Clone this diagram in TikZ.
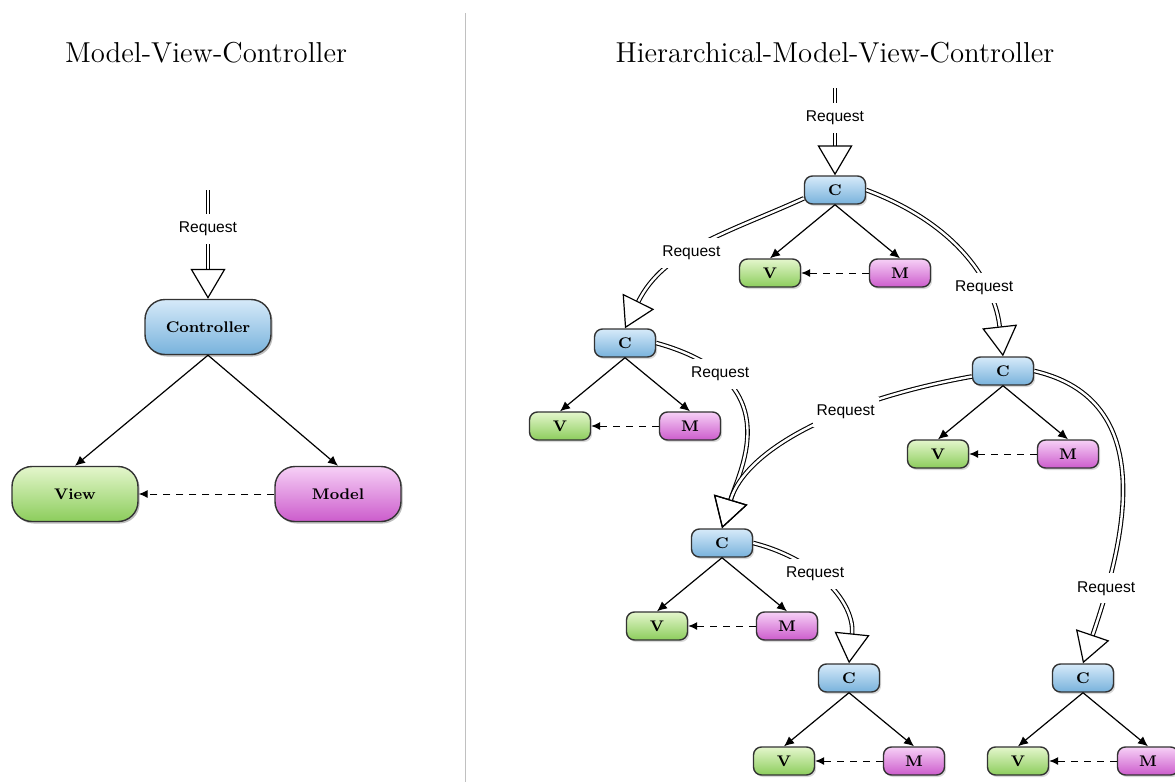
\documentclass[tikz,border=0pt]{standalone}
\usepackage{fontspec}
\usepackage{tikz}
\usetikzlibrary{arrows.meta}
\usetikzlibrary{shadows}
\usetikzlibrary{positioning}
\newfontfamily\reqfont{Liberation Sans}
\definecolor{ctop}{RGB}{214, 234, 249}
\definecolor{cbot}{RGB}{120, 178, 220}
\definecolor{vtop}{RGB}{228, 246, 204}
\definecolor{vbot}{RGB}{140, 205, 92}
\definecolor{mtop}{RGB}{246, 208, 246}
\definecolor{mbot}{RGB}{204, 92, 204}
\definecolor{divgray}{RGB}{192, 192, 192}
\tikzset{
  box/.style={draw=black!80, line width=0.7pt, rounded corners=4pt,
    minimum width=30.5pt, minimum height=14pt, inner sep=0pt,
    font=\bfseries\fontsize{7.7}{9}\selectfont,
    drop shadow={opacity=0.3, shadow xshift=0.8pt, shadow yshift=-1pt}},
  bigbox/.style={box, rounded corners=10pt, minimum width=63pt, minimum height=27.5pt},
  cbox/.style={box, top color=ctop, bottom color=cbot},
  vbox/.style={box, top color=vtop, bottom color=vbot},
  mbox/.style={box, top color=mtop, bottom color=mbot},
  heading/.style={font=\fontsize{14.4}{17}\selectfont},
  req/.style={draw=black, line width=0.55pt, double distance=1.2pt,
    -{Triangle[open, length=15pt, width=17.5pt, line width=0.6pt]}},
  lbl/.style={fill=white, font=\reqfont\fontsize{7.8}{9}\selectfont,
    inner xsep=2pt, inner ysep=4pt},
  call/.style={line width=0.6pt, -{Latex[length=5pt, width=4.5pt]}},
  notify/.style={line width=0.5pt, dash pattern=on 3.5pt off 3pt,
    -{Latex[length=4.5pt, width=4pt]}},
  divider/.style={draw=divgray, line width=0.5pt}
}

\begin{document}
\begin{tikzpicture}[x=0.5pt, y=-0.5pt]
  \useasboundingbox (0, 0) rectangle (1175, 782);
  \draw [divider] (465, 13) -- (465, 782);

  % MVC
  \node [heading] (mvc) at (206, 53) {Model-View-Controller};
  \node [cbox, bigbox] (ctrl) at (208, 327) {Controller};
  \node [vbox, bigbox] (view) at (75, 494) {View};
  \node [mbox, bigbox] (model) at (338, 494) {Model};
  \coordinate (in0) at (208, 190);
  \draw [req] (in0) -- node [lbl, pos=0.36] {Request} (ctrl.north);
  \draw [call] (ctrl.south) -- (view.north);
  \draw [call] (ctrl.south) -- (model.north);
  \draw [notify] (model.west) -- (view.east);

  % HMVC
  \node [heading] (hmvc) at (835, 53) {Hierarchical-Model-View-Controller};
  \foreach \i/\x/\y in {1/835/190, 2/625/343, 3/1003/371, 4/722/543, 5/849/678, 6/1083/678} {
    \node [cbox] (c\i) at (\x, \y) {C};
    \node [vbox] (v\i) at (\x-65, \y+83) {V};
    \node [mbox] (m\i) at (\x+65, \y+83) {M};
    \draw [call] (c\i.south) -- (v\i.north);
    \draw [call] (c\i.south) -- (m\i.north);
    \draw [notify] (m\i.west) -- (v\i.east);
  }
  \coordinate (in1) at (835, 88);
  \draw [req] (in1) -- node [lbl, pos=0.34] {Request} (c1.north);
  \draw [req] (c1.195) .. controls (727, 233) and (664, 250) .. node [lbl, pos=0.55] {Request} (c2.north);
  \draw [req] (c1.east) .. controls (960, 225) and (995, 285) .. node [lbl, pos=0.66] {Request} (c3.north);
  \draw [req] (c2.east) .. controls (790, 380) and (740, 469) .. node [lbl, pos=0.22] {Request} (c4.north);
  \draw [req] (c3.190) .. controls (840, 400) and (746, 449) .. node [lbl, pos=0.36] {Request} (c4.north);
  \draw [req] (c4.east) .. controls (820, 560) and (855, 605) .. node [lbl, pos=0.38] {Request} (c5.north);
  \draw [req] (c3.east) .. controls (1160, 400) and (1125, 540) .. node [lbl, pos=0.8] {Request} (c6.north);
\end{tikzpicture}
\end{document}
